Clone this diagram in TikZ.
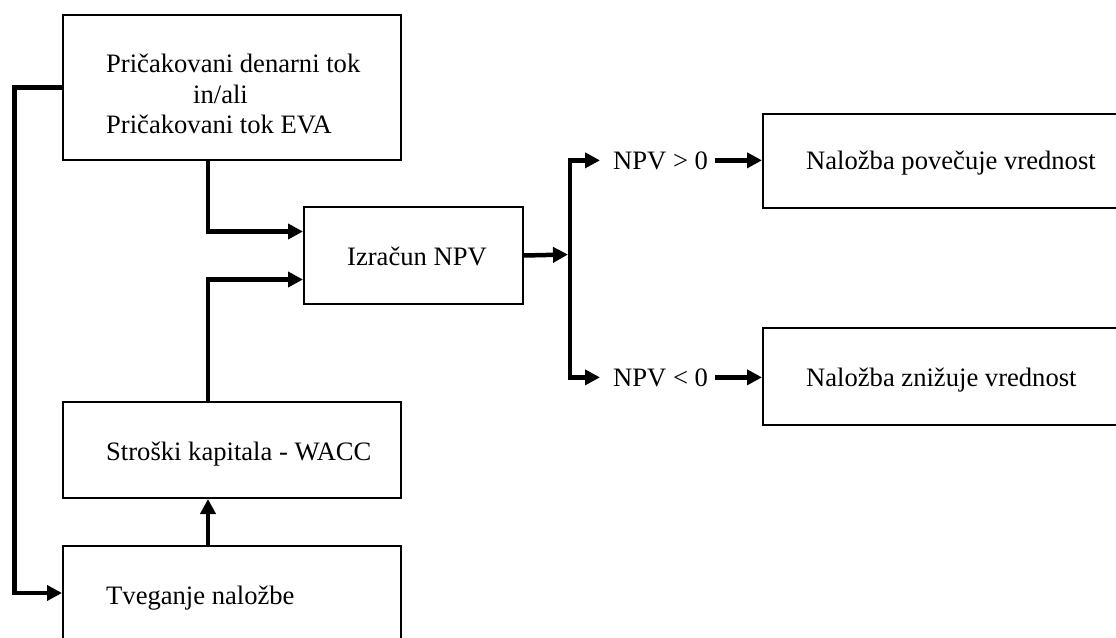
\documentclass[tikz,border=0pt]{standalone}
\usepackage{fontspec}
\setmainfont{Liberation Serif}
\usetikzlibrary{arrows.meta}
\begin{document}
\begin{tikzpicture}[x=1pt,y=-1pt,
  box/.style={draw, line width=2pt, rectangle, inner sep=0pt, anchor=north west},
  lbl/.style={anchor=base west, inner sep=0pt, font=\fontsize{26.6}{30}\selectfont},
  link/.style={line width=4.5pt, line join=miter},
  flow/.style={link, -{Triangle[length=15pt,width=15pt]}},
]
\useasboundingbox (0,0) rectangle (1116,637);
\clip (0,0) rectangle (1116,637);

% boxes
\node[box, minimum width=338pt, minimum height=145pt] (cash) at (62,14) {};
\node[box, minimum width=219pt, minimum height=97pt]  (npv)  at (303,206) {};
\node[box, minimum width=338pt, minimum height=96pt]  (wacc) at (62,401) {};
\node[box, minimum width=338pt, minimum height=94pt]  (risk) at (62,545) {};
\node[box, minimum width=380pt, minimum height=94pt]  (up)   at (762,113) {};
\node[box, minimum width=380pt, minimum height=97pt]  (down) at (762,327) {};

% box texts
\node[lbl] (cash1) at (106,72)  {Pričakovani denarni tok};
\node[lbl] (cash2) at (193,103) {in/ali};
\node[lbl] (cash3) at (106,133) {Pričakovani tok EVA};
\node[lbl] (npvt)  at (347,265) {Izračun NPV};
\node[lbl] (wacct) at (106,460) {Stroški kapitala - WACC};
\node[lbl] (riskt) at (106,604) {Tveganje naložbe};
\node[lbl] (upt)   at (806,169) {Naložba povečuje vrednost};
\node[lbl] (downt) at (806,386) {Naložba znižuje vrednost};

% decision labels
\node[lbl] (gt) at (613,169) {NPV > 0};
\node[lbl] (lt) at (613,386) {NPV < 0};

% connectors
\draw[flow] (cash.west) -- ++(-47.5,0) |- (risk.west);
\draw[flow] ([xshift=-24pt]cash.south) |- ([yshift=24pt]npv.west);
\draw[flow] ([xshift=-24pt]wacc.north) |- ([yshift=-24pt]npv.west);
\draw[flow] ([xshift=-24pt]risk.north) -- ([xshift=-24pt]wacc.south);

\coordinate (fork) at (570,254.5);
\draw[flow] (npv.east) -- ([xshift=-2pt]fork);
\draw[flow, shorten >=13pt] (fork) |- (gt.west);
\draw[flow, shorten >=13pt] (fork) |- (lt.west);
\draw[flow, shorten <=7pt] (gt.east) -- (gt.east -| up.west);
\draw[flow, shorten <=7pt] (lt.east) -- (lt.east -| down.west);
\end{tikzpicture}
\end{document}
